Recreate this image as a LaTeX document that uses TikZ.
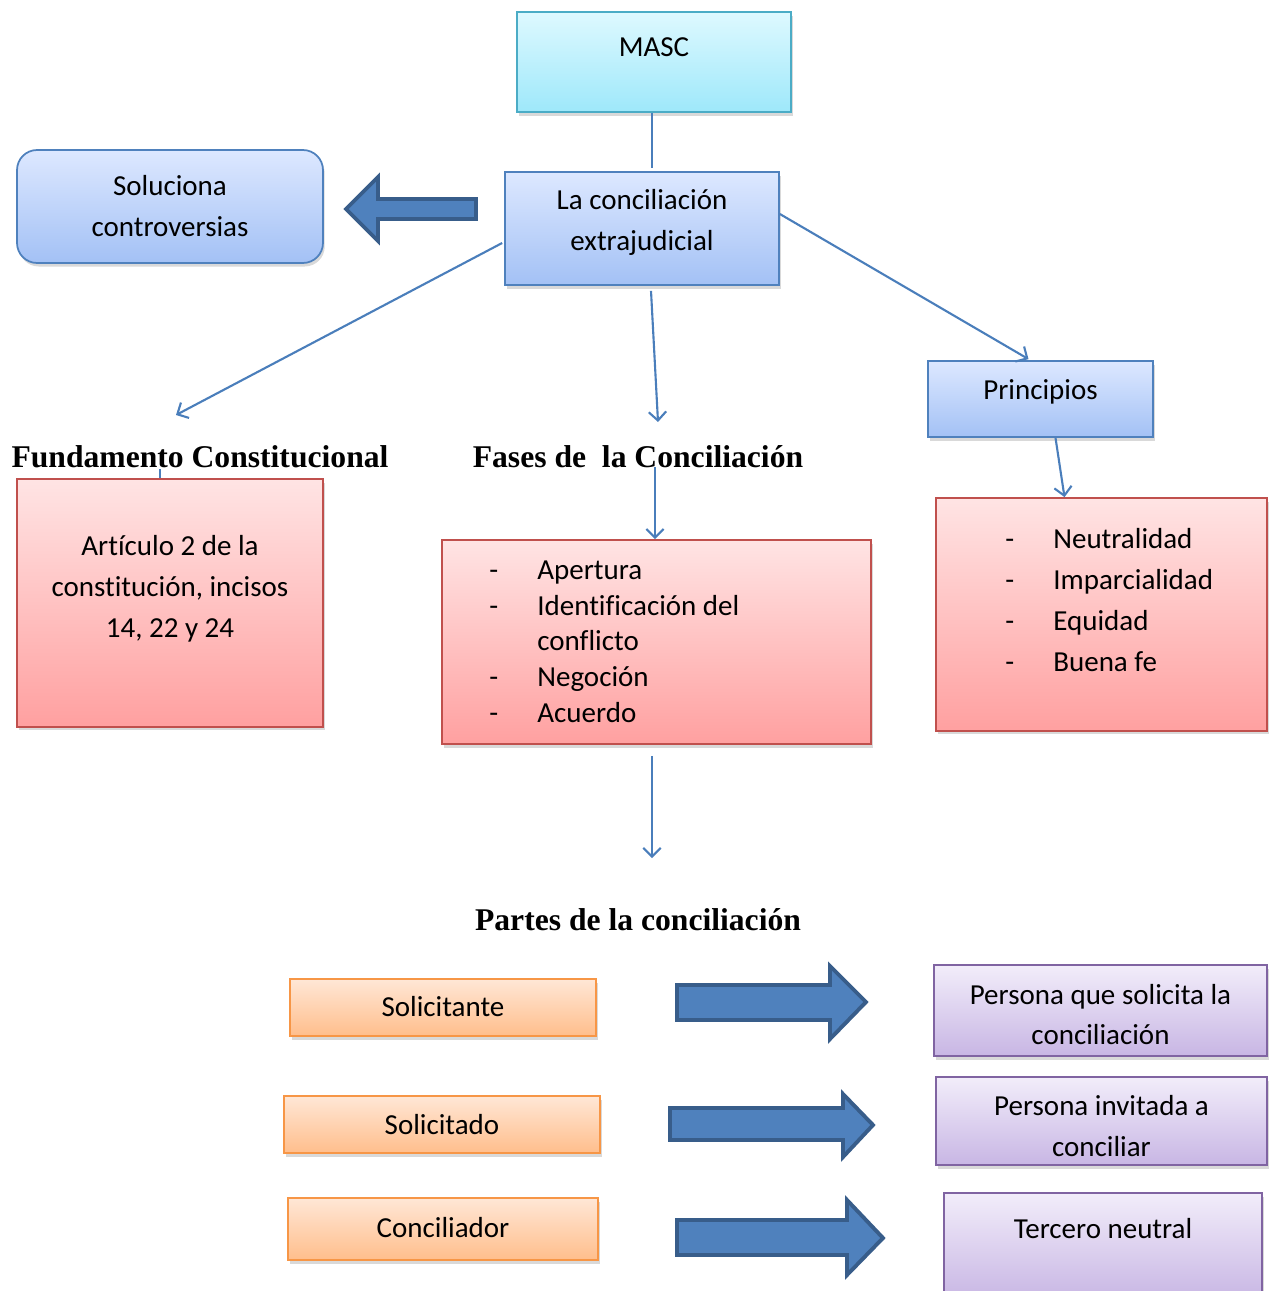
\documentclass[tikz,border=0pt]{standalone}
\usepackage{fontspec}
\setmainfont{Carlito}[Ligatures=NoCommon]
\newfontfamily\headfont{Liberation Serif}
\usetikzlibrary{calc,arrows.meta,shadows}
\tikzset {>={Straight Barb[angle=90:7pt]}}

\definecolor{linkblue}{RGB}{74,126,187}
\definecolor{mascline}{RGB}{75,172,198}
\definecolor{masctop}{RGB}{222,249,255}
\definecolor{mascbot}{RGB}{158,232,250}
\definecolor{blueline}{RGB}{79,129,189}
\definecolor{bluetop}{RGB}{221,232,255}
\definecolor{bluebot}{RGB}{163,193,245}
\definecolor{redline}{RGB}{192,80,77}
\definecolor{redtop}{RGB}{255,228,228}
\definecolor{redbot}{RGB}{255,160,160}
\definecolor{orgline}{RGB}{247,150,70}
\definecolor{orgtop}{RGB}{255,231,214}
\definecolor{orgbot}{RGB}{255,190,140}
\definecolor{purline}{RGB}{128,100,162}
\definecolor{purtop}{RGB}{242,237,250}
\definecolor{purbot}{RGB}{200,182,228}
\definecolor{arrfill}{RGB}{79,129,189}
\definecolor{arrline}{RGB}{56,93,138}

\tikzset{
  box/.style={draw, line width=1pt, inner sep=0pt,
    drop shadow={shadow xshift=1pt, shadow yshift=-2pt, opacity=0.3}},
  cyanbox/.style={box, draw=mascline, top color=masctop, bottom color=mascbot},
  bluebox/.style={box, draw=blueline, top color=bluetop, bottom color=bluebot},
  redbox/.style={box, draw=redline, top color=redtop, bottom color=redbot},
  orgbox/.style={box, draw=orgline, top color=orgtop, bottom color=orgbot},
  purbox/.style={box, draw=purline, top color=purtop, bottom color=purbot},
  txt/.style={font=\fontsize{16.5}{23.3}\selectfont, align=center, inner sep=0pt},
  head/.style={font=\headfont\bfseries\fontsize{18}{22}\selectfont, inner sep=0pt},
  link/.style={draw=linkblue, line width=1.2pt},
  bigarrow/.style={fill=arrfill, draw=arrline, line width=2.2pt, line join=miter}
}

\begin{document}
\begin{tikzpicture}[x=0.02cm, y=-0.02cm]
\useasboundingbox (0,0) rectangle (1273,1291);
\clip (0,0) rectangle (1273,1291);

% upper boxes
\node[cyanbox, minimum width=5.48cm, minimum height=2cm] (masc) at (654,62) {};
\node[txt] (masc-t) at (654,47) {MASC};
\node[bluebox, minimum width=5.48cm, minimum height=2.26cm] (concil) at (642,228.5) {};
\node[txt] (concil-t) at (642,222.5) {La conciliación\\extrajudicial};
\node[bluebox, rounded corners=0.4cm, minimum width=6.12cm, minimum height=2.26cm] (soluc) at (170,206.5) {};
\node[txt] (soluc-t) at (170,206.5) {Soluciona\\controversias};
\node[bluebox, minimum width=4.5cm, minimum height=1.52cm] (princ) at (1040.5,399) {};
\node[txt] (princ-t) at (1040.5,392) {Principios};

% headings
\node[head] (fundh) at (200,457) {Fundamento Constitucional};
\node[head] (fasesh) at (638,457) {Fases de~ la Conciliación};
\node[head] (partesh) at (638,920) {Partes de la conciliación};

% red boxes
\node[redbox, minimum width=6.12cm, minimum height=4.96cm] (fund) at (170,603) {};
\node[txt] (fund-t) at (170,588.5) {Artículo 2 de la\\constitución, incisos\\14, 22 y 24};
\node[redbox, minimum width=8.58cm, minimum height=4.08cm] (fases) at (656.5,642) {};
\node[txt, align=left, anchor=west, font=\fontsize{16.5}{20.3}\selectfont] (fases-t) at (489,641.5)
  {\makebox[0.96cm][l]{-}Apertura\\
   \makebox[0.96cm][l]{-}Identificación del\\
   \hspace*{0.96cm}conflicto\\
   \makebox[0.96cm][l]{-}Negoción\\
   \makebox[0.96cm][l]{-}Acuerdo};
\node[redbox, minimum width=6.62cm, minimum height=4.66cm] (plist) at (1101.5,614.5) {};
\node[txt, align=left, anchor=west] (plist-t) at (1005,600)
  {\makebox[0.96cm][l]{-}Neutralidad\\
   \makebox[0.96cm][l]{-}Imparcialidad\\
   \makebox[0.96cm][l]{-}Equidad\\
   \makebox[0.96cm][l]{-}Buena fe};

% partes
\node[orgbox, minimum width=6.12cm, minimum height=1.14cm] (solte) at (443,1007.5) {};
\node[txt] (solte-t) at (443,1007) {Solicitante};
\node[orgbox, minimum width=6.32cm, minimum height=1.14cm] (solto) at (442,1124.5) {};
\node[txt] (solto-t) at (442,1125) {Solicitado};
\node[orgbox, minimum width=6.2cm, minimum height=1.24cm] (concr) at (443,1229) {};
\node[txt] (concr-t) at (443,1228) {Conciliador};

\node[purbox, minimum width=6.66cm, minimum height=1.82cm] (desc1) at (1100.5,1010.5) {};
\node[txt] (desc1-t) at (1100.5,1014.5) {Persona que solicita la\\conciliación};
\node[purbox, minimum width=6.62cm, minimum height=1.76cm] (desc2) at (1101.5,1121) {};
\node[txt] (desc2-t) at (1101.5,1126) {Persona invitada a\\conciliar};
\node[purbox, minimum width=6.36cm, minimum height=2.14cm] (desc3) at (1103,1246.5) {};
\node[txt] (desc3-t) at (1103,1229) {Tercero neutral};

% free ends
\coordinate (fundtip) at (176,415);
\coordinate (fasestip) at (658,422);
\coordinate (partestip) at (652,858);

% connectors
\draw[link] ($(masc.south)+(-2,0)$) -- ++(0,55);
\draw[link,->] ($(concil.west)+(-2,14.5)$) -- (fundtip);
\draw[link,->] ($(concil.south)+(9,5)$) -- (fasestip);
\draw[link,->] ($(concil.east)+(0,-14.5)$) -- ($(princ.north)+(-12,-1)$);
\draw[link,->] ($(princ.south)+(15,0)$) -- ($(plist.north)+(-37,0)$);
\draw[link] ($(fund.north)+(-10,-9)$) -- ($(fund.north)+(-10,0)$);
\draw[link,->] ($(fases.north)+(-1.5,-72)$) -- ($(fases.north)+(-1.5,0)$);
\draw[link,->] ($(fases.south)+(-4.5,11)$) -- (partestip);

% block arrows
\draw[bigarrow] (476,199) -- (378,199) -- (378,177) -- (346,209) -- (378,241) -- (378,219) -- (476,219) -- cycle;
\draw[bigarrow] (677,985) -- (830,985) -- (830,966) -- (866,1002) -- (830,1039) -- (830,1020) -- (677,1020) -- cycle;
\draw[bigarrow] (670,1108) -- (843,1108) -- (843,1094) -- (873,1125) -- (843,1157) -- (843,1140) -- (670,1140) -- cycle;
\draw[bigarrow] (677,1220) -- (847,1220) -- (847,1200) -- (883,1238) -- (847,1275) -- (847,1255) -- (677,1255) -- cycle;

\end{tikzpicture}
\end{document}
